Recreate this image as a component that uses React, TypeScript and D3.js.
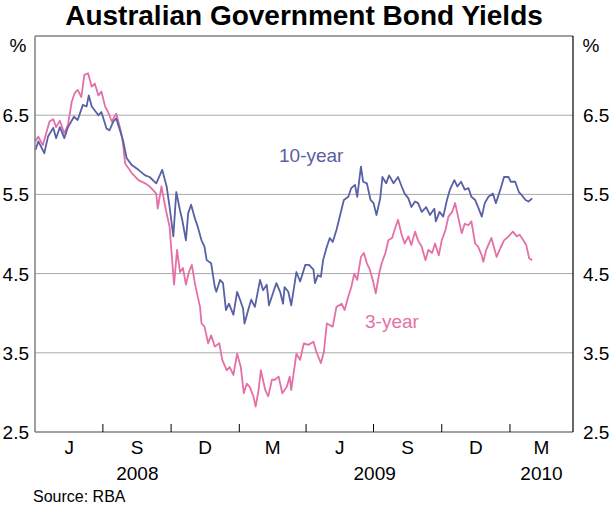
import React from "react";
import * as d3 from "d3";

// daily yields, per cent
const tenYear: [string, number][] = [
  ["2008-04-01", 6.06], ["2008-04-05", 6.17], ["2008-04-13", 6.02], ["2008-04-18", 6.23],
  ["2008-04-25", 6.34], ["2008-04-29", 6.21], ["2008-05-04", 6.35], ["2008-05-10", 6.21],
  ["2008-05-15", 6.35], ["2008-05-23", 6.48], ["2008-05-28", 6.44], ["2008-06-04", 6.63],
  ["2008-06-09", 6.61], ["2008-06-12", 6.75], ["2008-06-16", 6.61], ["2008-06-25", 6.5],
  ["2008-06-29", 6.54], ["2008-07-06", 6.33], ["2008-07-10", 6.31], ["2008-07-15", 6.42],
  ["2008-07-19", 6.46], ["2008-07-24", 6.31], ["2008-07-28", 6.19], ["2008-08-02", 5.96],
  ["2008-08-09", 5.87], ["2008-08-18", 5.81], ["2008-08-27", 5.74], ["2008-09-02", 5.72],
  ["2008-09-11", 5.64], ["2008-09-19", 5.81], ["2008-09-25", 5.6], ["2008-09-29", 5.34],
  ["2008-10-04", 4.97], ["2008-10-08", 5.53], ["2008-10-13", 5.3], ["2008-10-16", 5.18],
  ["2008-10-21", 4.92], ["2008-10-24", 5.26], ["2008-10-28", 5.37], ["2008-11-02", 5.2],
  ["2008-11-06", 5.09], ["2008-11-11", 4.92], ["2008-11-15", 4.84], ["2008-11-18", 4.67],
  ["2008-11-24", 4.63], ["2008-11-29", 4.33], ["2008-12-01", 4.27], ["2008-12-06", 4.42],
  ["2008-12-10", 4.38], ["2008-12-14", 4.04], ["2008-12-18", 4.12], ["2008-12-24", 3.98],
  ["2008-12-29", 4.27], ["2009-01-02", 4.17], ["2009-01-06", 4.06], ["2009-01-08", 3.87],
  ["2009-01-13", 4.04], ["2009-01-17", 4.17], ["2009-01-22", 4.08], ["2009-01-29", 4.42],
  ["2009-02-02", 4.29], ["2009-02-07", 4.36], ["2009-02-10", 4.1], ["2009-02-16", 4.27],
  ["2009-02-20", 4.38], ["2009-02-25", 4.27], ["2009-03-01", 4.12], ["2009-03-03", 4.33],
  ["2009-03-08", 4.27], ["2009-03-12", 4.1], ["2009-03-19", 4.52], ["2009-03-24", 4.4],
  ["2009-03-31", 4.61], ["2009-04-05", 4.61], ["2009-04-11", 4.55], ["2009-04-13", 4.38],
  ["2009-04-17", 4.48], ["2009-04-21", 4.46], ["2009-04-24", 4.67], ["2009-04-29", 4.84],
  ["2009-05-03", 4.95], ["2009-05-07", 4.9], ["2009-05-12", 5.05], ["2009-05-17", 5.24],
  ["2009-05-22", 5.43], ["2009-05-28", 5.47], ["2009-06-01", 5.58], ["2009-06-06", 5.62],
  ["2009-06-09", 5.47], ["2009-06-14", 5.85], ["2009-06-17", 5.66], ["2009-06-22", 5.64],
  ["2009-06-27", 5.43], ["2009-07-01", 5.39], ["2009-07-05", 5.24], ["2009-07-10", 5.45],
  ["2009-07-13", 5.72], ["2009-07-18", 5.64], ["2009-07-22", 5.74], ["2009-07-28", 5.64],
  ["2009-08-03", 5.72], ["2009-08-08", 5.6], ["2009-08-12", 5.51], ["2009-08-17", 5.45],
  ["2009-08-21", 5.34], ["2009-08-26", 5.41], ["2009-08-30", 5.39], ["2009-09-04", 5.28],
  ["2009-09-10", 5.34], ["2009-09-15", 5.24], ["2009-09-21", 5.32], ["2009-09-23", 5.16],
  ["2009-09-28", 5.28], ["2009-10-03", 5.22], ["2009-10-08", 5.43], ["2009-10-12", 5.56],
  ["2009-10-18", 5.68], ["2009-10-22", 5.6], ["2009-10-27", 5.66], ["2009-11-01", 5.56],
  ["2009-11-06", 5.58], ["2009-11-10", 5.47], ["2009-11-15", 5.43], ["2009-11-19", 5.34],
  ["2009-11-24", 5.22], ["2009-11-28", 5.39], ["2009-12-03", 5.47], ["2009-12-09", 5.51],
  ["2009-12-13", 5.39], ["2009-12-19", 5.56], ["2009-12-24", 5.72], ["2009-12-30", 5.72],
  ["2010-01-02", 5.66], ["2010-01-08", 5.66], ["2010-01-13", 5.53], ["2010-01-17", 5.49],
  ["2010-01-22", 5.43], ["2010-01-26", 5.41], ["2010-01-31", 5.45],
];

const threeYear: [string, number][] = [
  ["2008-04-01", 6.17], ["2008-04-05", 6.23], ["2008-04-11", 6.12], ["2008-04-20", 6.42],
  ["2008-04-25", 6.45], ["2008-04-29", 6.35], ["2008-05-04", 6.43], ["2008-05-10", 6.27],
  ["2008-05-15", 6.38], ["2008-05-20", 6.67], ["2008-05-24", 6.78], ["2008-05-28", 6.82],
  ["2008-06-02", 6.73], ["2008-06-06", 7.01], ["2008-06-11", 7.03], ["2008-06-16", 6.86],
  ["2008-06-20", 6.9], ["2008-06-25", 6.75], ["2008-06-29", 6.8], ["2008-07-04", 6.61],
  ["2008-07-08", 6.54], ["2008-07-13", 6.42], ["2008-07-19", 6.52], ["2008-07-25", 6.31],
  ["2008-07-28", 6.15], ["2008-07-31", 5.89], ["2008-08-09", 5.77], ["2008-08-18", 5.68],
  ["2008-08-27", 5.64], ["2008-09-02", 5.6], ["2008-09-11", 5.51], ["2008-09-13", 5.32],
  ["2008-09-18", 5.6], ["2008-09-24", 5.3], ["2008-09-29", 5.09], ["2008-10-01", 4.84],
  ["2008-10-05", 4.36], ["2008-10-09", 4.8], ["2008-10-13", 4.52], ["2008-10-17", 4.57],
  ["2008-10-21", 4.36], ["2008-10-25", 4.52], ["2008-10-29", 4.61], ["2008-11-02", 4.38],
  ["2008-11-05", 4.25], ["2008-11-09", 4.08], ["2008-11-11", 3.87], ["2008-11-15", 3.83],
  ["2008-11-20", 3.62], ["2008-11-24", 3.72], ["2008-11-29", 3.58], ["2008-12-05", 3.62],
  ["2008-12-09", 3.41], ["2008-12-15", 3.28], ["2008-12-19", 3.32], ["2008-12-24", 3.22],
  ["2008-12-29", 3.49], ["2009-01-03", 3.32], ["2009-01-07", 2.99], ["2009-01-11", 3.11],
  ["2009-01-15", 3.07], ["2009-01-20", 2.95], ["2009-01-23", 2.82], ["2009-01-27", 3.03],
  ["2009-01-30", 3.28], ["2009-02-05", 3.03], ["2009-02-09", 2.95], ["2009-02-14", 3.16],
  ["2009-02-18", 3.16], ["2009-02-23", 3.2], ["2009-02-28", 2.99], ["2009-03-06", 3.07],
  ["2009-03-10", 3.2], ["2009-03-12", 3.03], ["2009-03-19", 3.49], ["2009-03-24", 3.41],
  ["2009-03-29", 3.62], ["2009-04-04", 3.6], ["2009-04-11", 3.64], ["2009-04-15", 3.51],
  ["2009-04-21", 3.37], ["2009-04-25", 3.51], ["2009-04-29", 3.87], ["2009-05-07", 3.83],
  ["2009-05-12", 4.08], ["2009-05-19", 4.12], ["2009-05-23", 4.04], ["2009-05-28", 4.21],
  ["2009-06-01", 4.33], ["2009-06-05", 4.5], ["2009-06-09", 4.42], ["2009-06-14", 4.71],
  ["2009-06-18", 4.76], ["2009-06-22", 4.63], ["2009-06-26", 4.55], ["2009-06-30", 4.42],
  ["2009-07-04", 4.25], ["2009-07-09", 4.52], ["2009-07-12", 4.63], ["2009-07-17", 4.76],
  ["2009-07-21", 4.92], ["2009-07-26", 4.95], ["2009-07-30", 5.07], ["2009-08-03", 5.18],
  ["2009-08-08", 4.99], ["2009-08-12", 4.88], ["2009-08-17", 4.97], ["2009-08-21", 4.86],
  ["2009-08-26", 5.03], ["2009-08-30", 4.92], ["2009-09-04", 4.84], ["2009-09-09", 4.67],
  ["2009-09-13", 4.8], ["2009-09-18", 4.76], ["2009-09-22", 4.88], ["2009-09-27", 4.73],
  ["2009-10-01", 4.92], ["2009-10-06", 5.05], ["2009-10-10", 5.22], ["2009-10-15", 5.28],
  ["2009-10-19", 5.39], ["2009-10-23", 5.22], ["2009-10-28", 5.01], ["2009-11-01", 5.13],
  ["2009-11-06", 5.11], ["2009-11-10", 5.16], ["2009-11-15", 4.88], ["2009-11-19", 4.84],
  ["2009-11-24", 4.73], ["2009-11-26", 4.65], ["2009-11-30", 4.8], ["2009-12-07", 4.95],
  ["2009-12-14", 4.71], ["2009-12-19", 4.82], ["2009-12-24", 4.92], ["2009-12-30", 4.97],
  ["2010-01-05", 5.03], ["2010-01-10", 4.97], ["2010-01-14", 4.99], ["2010-01-19", 4.92],
  ["2010-01-23", 4.86], ["2010-01-27", 4.69], ["2010-01-31", 4.67],
];

const yTicks = [2.5, 3.5, 4.5, 5.5, 6.5];
const monthLetters = "JFMAMJJASOND";
const yearLabels = [2008, 2009, 2010];

const W = 611;
const H = 506;
const margin = { top: 36, right: 38, bottom: 74, left: 35 };
const blue = "#5860a6";
const pink = "#e470a7";
const font = "'Liberation Sans', Arial, sans-serif";

const parse = d3.timeParse("%Y-%m-%d");

export default function App() {
  const start = new Date(2008, 3, 1);
  const end = new Date(2010, 2, 27);
  const x = d3.scaleTime().domain([start, end]).range([margin.left + 0.4, W - margin.right]);
  const y = d3.scaleLinear().domain([2.5, 7.5]).range([H - margin.bottom, margin.top]);

  const left = margin.left;
  const right = W - margin.right;
  const top = margin.top;
  const bottom = H - margin.bottom;

  const line = d3
    .line<[string, number]>()
    .x((d) => x(parse(d[0])!))
    .y((d) => y(d[1]));

  // quarter boundaries inside the plot
  const quarters = d3.timeMonth.every(3)!.range(start, end);
  const innerTicks = quarters.filter((q) => q > start);

  return (
    <div style={{ position: "absolute", left: 0, top: 0 }}>
      <svg width={W} height={H} style={{ display: "block", fontFamily: font }}>
        <rect width={W} height={H} fill="#fff" />
        <text x={304} y={25} textAnchor="middle" fontSize={28} fontWeight="bold">
          Australian Government Bond Yields
        </text>

        {yTicks
          .filter((t) => t > 2.5)
          .map((t) => (
            <line key={t} x1={left} x2={right} y1={y(t)} y2={y(t)} stroke="#a8a8a8" strokeWidth={1} />
          ))}

        <path d={line(threeYear)!} fill="none" stroke={pink} strokeWidth={1.8} strokeLinejoin="round" />
        <path d={line(tenYear)!} fill="none" stroke={blue} strokeWidth={1.8} strokeLinejoin="round" />

        {/* frame */}
        <line x1={left} x2={right} y1={top} y2={top} stroke="#808080" strokeWidth={1.5} />
        <line x1={left} x2={left} y1={top} y2={bottom} stroke="#808080" strokeWidth={1.5} />
        <line x1={left} x2={right} y1={bottom} y2={bottom} stroke="#808080" strokeWidth={1.5} />
        <line x1={right} x2={right} y1={top} y2={bottom} stroke="#000" strokeWidth={1.2} />

        {innerTicks.map((q) => (
          <line key={+q} x1={x(q)} x2={x(q)} y1={bottom} y2={bottom - 8} stroke="#000" strokeWidth={1} />
        ))}

        {quarters.map((q) => {
          const qEnd = d3.min([d3.timeMonth.offset(q, 3), end])!;
          const mid = (x(q) + x(qEnd)) / 2;
          return (
            <text key={+q} x={mid} y={454} textAnchor="middle" fontSize={19}>
              {monthLetters[(q.getMonth() + 2) % 12]}
            </text>
          );
        })}

        {yearLabels.map((yr) => {
          const a = d3.max([new Date(yr, 0, 1), start])!;
          const b = d3.min([new Date(yr + 1, 0, 1), end])!;
          return (
            <text key={yr} x={(x(a) + x(b)) / 2} y={480} textAnchor="middle" fontSize={19}>
              {yr}
            </text>
          );
        })}

        {yTicks.map((t) => (
          <g key={t}>
            <text x={29} y={y(t) + 7} textAnchor="end" fontSize={19}>
              {t.toFixed(1)}
            </text>
            <text x={583} y={y(t) + 7} textAnchor="start" fontSize={19}>
              {t.toFixed(1)}
            </text>
          </g>
        ))}
        <text x={18} y={52} textAnchor="middle" fontSize={19}>%</text>
        <text x={591} y={52} textAnchor="middle" fontSize={19}>%</text>

        <text x={279} y={162} fontSize={19} fill={blue}>10-year</text>
        <text x={365} y={328} fontSize={19} fill={pink}>3-year</text>

        <text x={33} y={502} fontSize={16}>Source: RBA</text>
      </svg>
    </div>
  );
}
